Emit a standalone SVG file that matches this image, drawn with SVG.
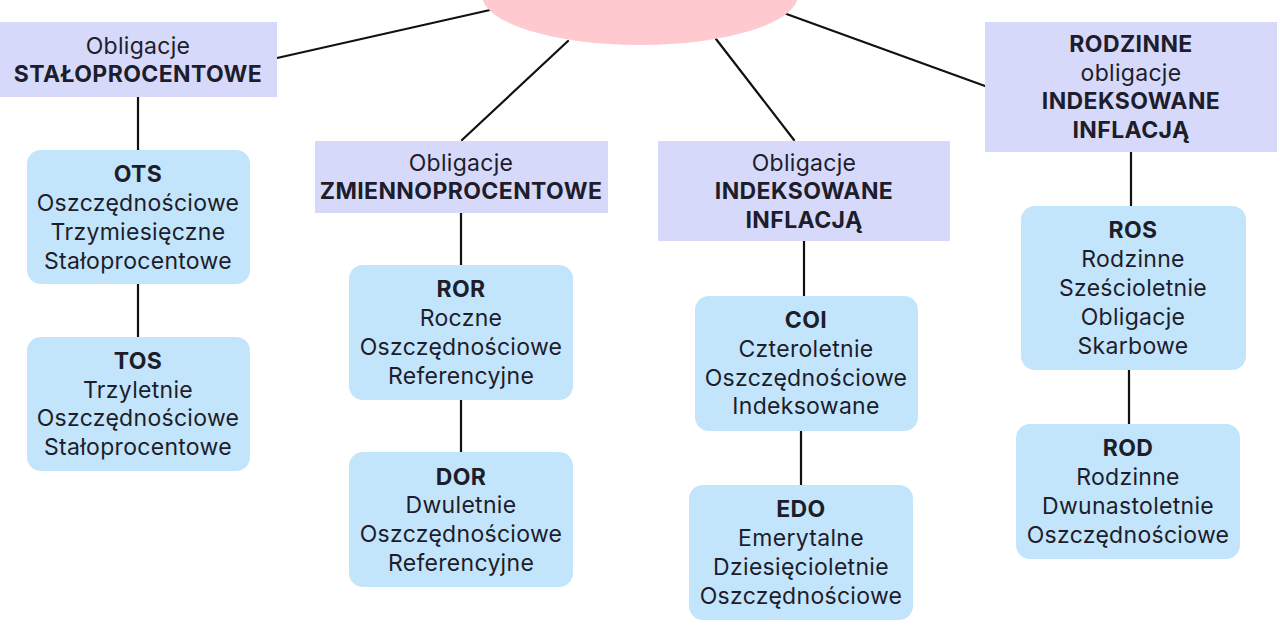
<svg xmlns="http://www.w3.org/2000/svg" width="1280" height="640" viewBox="0 0 1280 640">
<style>
.cat{fill:#D7D9FA}
.sub{fill:#C3E5FB}
text{font-family:Inter,"Noto Sans","DejaVu Sans",sans-serif;font-size:23px;letter-spacing:0.3px;fill:#1d1d2b;text-anchor:middle}
.b{font-weight:700;letter-spacing:0.4px}
.ln{stroke:#111;stroke-width:2.2;fill:none;stroke-linecap:round}
</style>
<rect width="1280" height="640" fill="#fff"/>
<g id="connectors">
<line class="ln" x1="277" y1="58" x2="490" y2="10"/>
<line class="ln" x1="462" y1="140" x2="568" y2="41"/>
<line class="ln" x1="716" y1="39" x2="794" y2="140"/>
<line class="ln" x1="781" y1="12" x2="985" y2="86"/>
<line class="ln" x1="138" y1="97" x2="138" y2="150"/>
<line class="ln" x1="138" y1="284" x2="138" y2="337"/>
<line class="ln" x1="461" y1="213" x2="461" y2="265"/>
<line class="ln" x1="461" y1="400" x2="461" y2="452"/>
<line class="ln" x1="804" y1="241" x2="804" y2="296"/>
<line class="ln" x1="801" y1="431" x2="801" y2="485"/>
<line class="ln" x1="1131" y1="152" x2="1131" y2="206"/>
<line class="ln" x1="1129" y1="370" x2="1129" y2="424"/>
</g>
<g id="root">
<ellipse cx="640" cy="-5" rx="158" ry="50" fill="#FFC9D0"/>
</g>
<g id="stalo">
<rect class="cat" x="0" y="22" width="277" height="75"/>
<text x="138" y="54">Obligacje</text>
<text class="b" x="138" y="82">STAŁOPROCENTOWE</text>
</g>
<g id="ots">
<rect class="sub" x="27" y="150" width="223" height="134" rx="14"/>
<text class="b" x="138" y="182">OTS</text>
<text x="138" y="211">Oszczędnościowe</text>
<text x="138" y="240">Trzymiesięczne</text>
<text x="138" y="269">Stałoprocentowe</text>
</g>
<g id="tos">
<rect class="sub" x="27" y="337" width="223" height="134" rx="14"/>
<text class="b" x="138" y="369">TOS</text>
<text x="138" y="398">Trzyletnie</text>
<text x="138" y="426">Oszczędnościowe</text>
<text x="138" y="455">Stałoprocentowe</text>
</g>
<g id="zmienno">
<rect class="cat" x="315" y="141" width="293" height="72"/>
<text x="461" y="171">Obligacje</text>
<text class="b" x="461" y="199">ZMIENNOPROCENTOWE</text>
</g>
<g id="ror">
<rect class="sub" x="349" y="265" width="224" height="135" rx="14"/>
<text class="b" x="461" y="297">ROR</text>
<text x="461" y="326">Roczne</text>
<text x="461" y="355">Oszczędnościowe</text>
<text x="461" y="384">Referencyjne</text>
</g>
<g id="dor">
<rect class="sub" x="349" y="452" width="224" height="135" rx="14"/>
<text class="b" x="461" y="485">DOR</text>
<text x="461" y="513">Dwuletnie</text>
<text x="461" y="542">Oszczędnościowe</text>
<text x="461" y="571">Referencyjne</text>
</g>
<g id="indeks">
<rect class="cat" x="658" y="141" width="292" height="100"/>
<text x="804" y="171">Obligacje</text>
<text class="b" x="804" y="199">INDEKSOWANE</text>
<text class="b" x="804" y="228">INFLACJĄ</text>
</g>
<g id="coi">
<rect class="sub" x="695" y="296" width="223" height="135" rx="14"/>
<text class="b" x="806" y="328">COI</text>
<text x="806" y="357">Czteroletnie</text>
<text x="806" y="386">Oszczędnościowe</text>
<text x="806" y="414">Indeksowane</text>
</g>
<g id="edo">
<rect class="sub" x="689" y="485" width="224" height="135" rx="14"/>
<text class="b" x="801" y="517">EDO</text>
<text x="801" y="546">Emerytalne</text>
<text x="801" y="575">Dziesięcioletnie</text>
<text x="801" y="604">Oszczędnościowe</text>
</g>
<g id="rodzinne">
<rect class="cat" x="985" y="22" width="292" height="130"/>
<text class="b" x="1131" y="52">RODZINNE</text>
<text x="1131" y="81">obligacje</text>
<text class="b" x="1131" y="109">INDEKSOWANE</text>
<text class="b" x="1131" y="138">INFLACJĄ</text>
</g>
<g id="ros">
<rect class="sub" x="1021" y="206" width="225" height="164" rx="14"/>
<text class="b" x="1133" y="238">ROS</text>
<text x="1133" y="267">Rodzinne</text>
<text x="1133" y="296">Sześcioletnie</text>
<text x="1133" y="325">Obligacje</text>
<text x="1133" y="354">Skarbowe</text>
</g>
<g id="rod">
<rect class="sub" x="1016" y="424" width="224" height="135" rx="14"/>
<text class="b" x="1128" y="456">ROD</text>
<text x="1128" y="485">Rodzinne</text>
<text x="1128" y="514">Dwunastoletnie</text>
<text x="1128" y="543">Oszczędnościowe</text>
</g>
</svg>
